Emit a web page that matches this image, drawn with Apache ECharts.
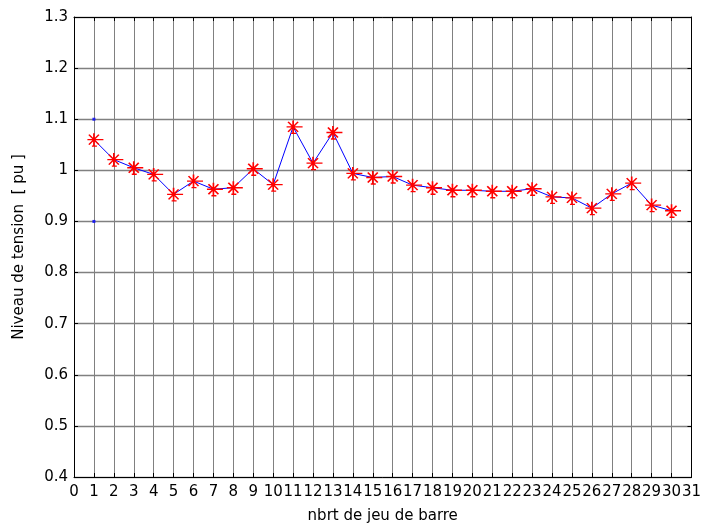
<!DOCTYPE html>
<html>
<head>
<meta charset="utf-8">
<title>Niveau de tension</title>
<script src="https://cdn.jsdelivr.net/npm/echarts@6/dist/echarts.min.js"></script>
<style>
  html, body { margin: 0; padding: 0; background: #fff; }
  #chart { width: 704px; height: 529px; }
</style>
</head>
<body>
<div id="chart"></div>
<script>
// Bus numbers (jeu de barre) and voltage level in per-unit
const busNumbers = [1, 2, 3, 4, 5, 6, 7, 8, 9, 10, 11, 12, 13, 14, 15,
                    16, 17, 18, 19, 20, 21, 22, 23, 24, 25, 26, 27, 28, 29, 30];
const voltagePu = [1.060, 1.021, 1.005, 0.992, 0.953, 0.979, 0.963, 0.966, 1.003, 0.972,
                   1.085, 1.014, 1.074, 0.994, 0.986, 0.988, 0.971, 0.966, 0.961, 0.961,
                   0.959, 0.959, 0.964, 0.948, 0.946, 0.926, 0.954, 0.975, 0.932, 0.921];
// Voltage limits drawn as two dots at bus 1
const limitBus = [1, 1];
const limitPu = [1.1, 0.9];
// Axis tick values
const xTicks = { min: 0, max: 31, step: 1 };
const yTicks = { min: 0.4, max: 1.3, step: 0.1 };

const FONT = 'DejaVu Sans';
const chart = echarts.init(document.getElementById('chart'), null, { renderer: 'canvas' });

const gridCol = '#808080';
const yLabel = v => String(parseFloat(v.toFixed(1)));

const baseX = {
  type: 'value', min: xTicks.min, max: xTicks.max, interval: xTicks.step,
  axisLine: { show: true, onZero: false, lineStyle: { color: '#000', width: 1 } },
  axisTick: { show: true, inside: true, length: 4, lineStyle: { color: '#000' } }
};
const baseY = {
  type: 'value', min: yTicks.min, max: yTicks.max, interval: yTicks.step,
  axisLine: { show: true, onZero: false, lineStyle: { color: '#000', width: 1 } },
  axisTick: { show: true, inside: true, length: 4, lineStyle: { color: '#000' } }
};

// Asterisk marker with a longer stroke on its right side
const starPath = 'path://M0,-6.5L0,6.5M-6.5,0L9.5,0M-5,-5L5,5M-5,5L5,-5M-2,6.5L3,6.5';

chart.setOption({
  animation: false,
  backgroundColor: '#fff',
  grid: { left: 74, right: 9, top: 17, bottom: 50, containLabel: false },
  xAxis: [
    Object.assign({}, baseX, {
      position: 'bottom',
      name: 'nbrt de jeu de barre',
      nameLocation: 'middle',
      nameGap: 32,
      nameTextStyle: { fontFamily: FONT, fontSize: 15, color: '#000' },
      axisLabel: { show: true, margin: 8, fontFamily: FONT, fontSize: 15, color: '#000',
                   showMinLabel: true, showMaxLabel: true, hideOverlap: false },
      splitLine: { show: true, lineStyle: { color: gridCol, width: 1 } }
    }),
    Object.assign({}, baseX, {
      position: 'top',
      axisLabel: { show: false },
      splitLine: { show: false }
    })
  ],
  yAxis: [
    Object.assign({}, baseY, {
      position: 'left',
      name: 'Niveau de tension  [ pu ]',
      nameLocation: 'middle',
      nameGap: 47,
      nameRotate: 90,
      nameTextStyle: { fontFamily: FONT, fontSize: 15, color: '#000' },
      axisLabel: { show: true, margin: 6, fontFamily: FONT, fontSize: 15, color: '#000',
                   formatter: yLabel },
      splitLine: { show: true, lineStyle: { color: gridCol, width: 1.4 } }
    }),
    Object.assign({}, baseY, {
      position: 'right',
      axisLabel: { show: false },
      splitLine: { show: false }
    })
  ],
  series: [
    {
      type: 'line',
      xAxisIndex: 0, yAxisIndex: 0,
      data: busNumbers.map((b, i) => [b, voltagePu[i]]),
      lineStyle: { color: '#0000ff', width: 1 },
      symbol: starPath,
      symbolSize: [16, 13],
      symbolOffset: [1.5, 0],
      showSymbol: true,
      itemStyle: { color: '#ff0000', borderColor: '#ff0000', borderWidth: 1.5 },
      z: 3
    },
    {
      type: 'scatter',
      xAxisIndex: 0, yAxisIndex: 0,
      data: limitBus.map((b, i) => [b, limitPu[i]]),
      symbol: 'rect',
      symbolSize: 3,
      itemStyle: { color: '#0000ff' },
      z: 4
    }
  ]
});
</script>
</body>
</html>
